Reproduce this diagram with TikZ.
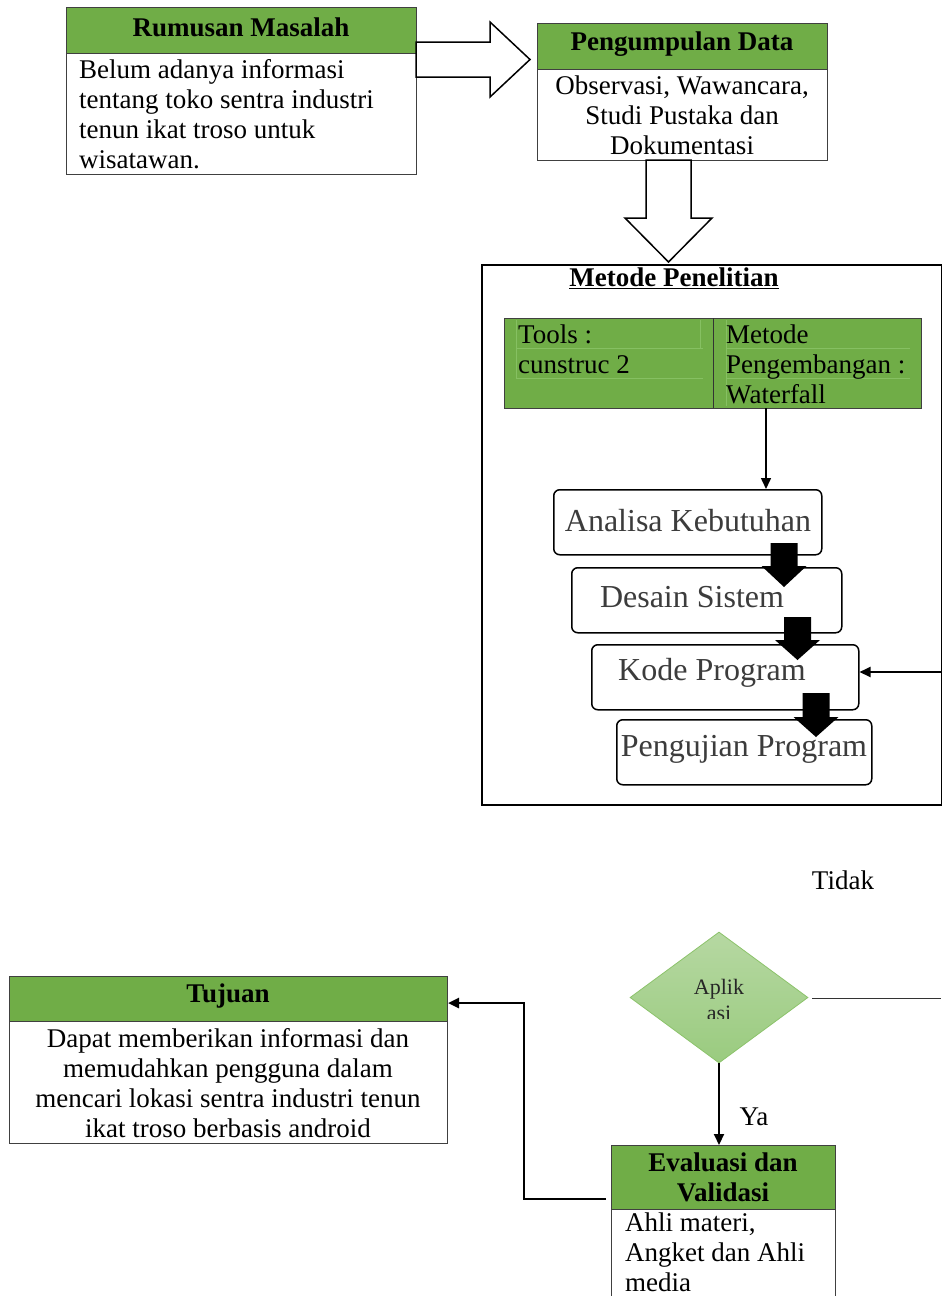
\documentclass[tikz,border=0pt]{standalone}
\usepackage{fontspec}
\setmainfont{Liberation Serif}
\usetikzlibrary{shapes.geometric,arrows.meta,calc}
\definecolor{hgreen}{HTML}{70AD47}
\definecolor{faintg}{HTML}{86C062}
\definecolor{diamtop}{HTML}{B6D8A2}
\definecolor{diambot}{HTML}{9ACB7F}
\definecolor{diamline}{HTML}{8CC36B}
\definecolor{txtgray}{HTML}{3C3C3C}
\newcommand\blkarr[4]{\fill[black] (#1-13.5,#2) -- (#1+13.5,#2) -- (#1+13.5,#3) -- (#1+22.5,#3) -- (#1,#4) -- (#1-22.5,#3) -- (#1-13.5,#3) -- cycle;}
\begin{document}
\begin{tikzpicture}[x=1pt,y=-1pt,
  boxline/.style={draw=black!75, line width=1pt},
  hdr/.style={boxline, fill=hgreen, anchor=north west, inner sep=0pt},
  bodybox/.style={boxline, fill=white, anchor=north west, inner sep=0pt},
  txt/.style={font=\fontsize{27}{30}\selectfont, inner sep=0pt},
  hdrtxt/.style={font=\fontsize{27}{30}\selectfont\bfseries, inner sep=0pt},
  wfbox/.style={draw=black, line width=1.5pt, rounded corners=6pt, fill=white, anchor=north west, inner sep=0pt},
  wftxt/.style={font=\fontsize{32}{36}\selectfont, text=txtgray, inner sep=0pt},
  hollow/.style={draw=black, line width=1.5pt, fill=white, line join=miter},
  faint/.style={draw=faintg, line width=0.5pt},
  arr/.style={draw=black, line width=2pt, -{Triangle[length=11pt,width=10pt]}},
]
\useasboundingbox (0,0) rectangle (942,1296);

% Rumusan Masalah
\node[hdr, minimum width=350, minimum height=46] (rumh) at (66,7) {};
\node[bodybox, minimum width=350, minimum height=121] (rumb) at (66,53) {};
\node[hdrtxt] (rumht) at (241,27) {Rumusan Masalah};
\node[txt, anchor=west, align=left] (rumbt) at (79,114) {Belum adanya informasi\\tentang toko sentra industri\\tenun ikat troso untuk\\wisatawan.};

% hollow arrow right
\coordinate (a1s) at (416,59.5);
\draw[hollow] ($(a1s)+(0,-17.5)$) -- (490,42) -- (490,22) -- (530,59.5) -- (490,97) -- (490,77) -- ($(a1s)+(0,17.5)$) -- cycle;

% Pengumpulan Data
\node[hdr, minimum width=290, minimum height=46] (pgh) at (537,23) {};
\node[bodybox, minimum width=290, minimum height=91] (pgb) at (537,69) {};
\node[hdrtxt] (pght) at (682,44) {Pengumpulan Data};
\node[txt, align=center] (pgbt) at (682,115) {Observasi, Wawancara,\\Studi Pustaka dan\\Dokumentasi};

% hollow arrow down
\draw[hollow] (646,160) -- (646,218) -- (625,218) -- (668.5,262) -- (712,218) -- (691,218) -- (691,160) -- cycle;

% Metode Penelitian
\node[draw=black, line width=2pt, anchor=north west, minimum width=460, minimum height=540, inner sep=0pt] (mp) at (481,264) {};
\node[hdrtxt] (mpt) at (674,278) {\underline{Metode Penelitian}};

\node[draw=black!75, line width=1pt, fill=hgreen, anchor=north west, minimum width=417, minimum height=90, inner sep=0pt] (tbl) at (504,318) {};
\draw[faint] (516,348) -- (703,348) (516,378) -- (703,378) (516,320) -- (516,378) (700,320) -- (700,348);
\draw[faint] (726,348) -- (910,348) (726,378) -- (910,378) (726,320) -- (726,406);
\draw[draw=black!80, line width=1pt] (713,318) -- (713,408);
\node[txt, anchor=west, align=left] (tools) at (518,349) {Tools :\\cunstruc 2};
\node[txt, anchor=west, align=left] (metode) at (726,364) {Metode\\Pengembangan :\\Waterfall};

% Waterfall boxes
\node[wfbox, minimum width=268, minimum height=65] (ana) at (553,489) {};
\node[wfbox, minimum width=270, minimum height=65] (des) at (571,567) {};
\node[wfbox, minimum width=267, minimum height=65] (kod) at (591,644) {};
\node[wfbox, minimum width=255, minimum height=65] (uji) at (616,719) {};
\node[wftxt] (anat) at (688,521) {Analisa Kebutuhan};
\node[wftxt] (dest) at (692,597) {Desain Sistem};
\node[wftxt] (kodt) at (712,673) {Kode Program};
\node[wftxt] (ujit) at (744,749) {Pengujian Program};

\blkarr{784}{543}{566}{587}
\blkarr{797.5}{617}{640}{660}
\blkarr{816}{693}{717}{737}

\coordinate (tblout) at (766,408);
\draw[arr, line width=1.5pt] (tblout) -- (tblout |- ana.north);

\coordinate (fbin) at (941,672);
\draw[arr] (fbin) -- (fbin -| kod.east);

% Decision
\node[txt] (tidak) at (843,880) {Tidak};
\node[diamond, minimum width=178, minimum height=131, inner sep=0pt, draw=diamline, line width=0.8pt, top color=diamtop, bottom color=diambot] (apl) at (719,997.5) {};
\begin{scope}
\clip (600,925) rectangle (840,1018);
\node[font=\fontsize{22}{26}\selectfont, align=center, inner sep=0pt, text=black!85] (aplt) at (719,1000) {Aplik\\asi};
\end{scope}
\coordinate (tidR) at (941,998);
\draw[draw=black!80, line width=1pt] ($(apl.east)+(4,0.5)$) -- (tidR);

% Evaluasi dan Validasi
\node[hdr, minimum width=224, minimum height=64] (evh) at (611,1145) {};
\node[bodybox, minimum width=224, minimum height=100] (evb) at (611,1209) {};
\node[hdrtxt, align=center] (evht) at (723,1177) {Evaluasi dan\\Validasi};
\node[txt, anchor=west, align=left] (evbt) at (625,1252) {Ahli materi,\\Angket dan Ahli\\media};

\draw[arr] (apl.south) -- (apl.south |- evh.north);
\node[txt] (ya) at (754,1117) {Ya};

% Tujuan
\node[hdr, minimum width=438, minimum height=45] (tjh) at (9,976) {};
\node[bodybox, minimum width=438, minimum height=122] (tjb) at (9,1021) {};
\node[hdrtxt] (tjht) at (228,996) {Tujuan};
\node[txt, align=center] (tjbt) at (228,1083.5) {Dapat memberikan informasi dan\\memudahkan pengguna dalam\\mencari lokasi sentra industri tenun\\ikat troso berbasis android};

\coordinate (evout) at (606,1199);
\coordinate (bend1) at (524,1199);
\coordinate (bend2) at (524,1003);
\draw[arr, line width=2.5pt] (evout) -- (bend1) -- (bend2) -- (bend2 -| tjh.east);
\end{tikzpicture}
\end{document}
